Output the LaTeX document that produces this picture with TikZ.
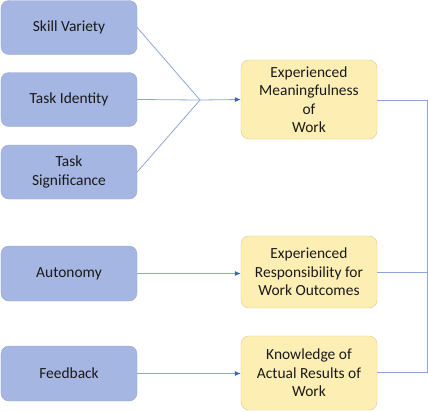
\documentclass[tikz,border=0pt]{standalone}
\usepackage{fontspec}
\setmainfont{Carlito}
\usetikzlibrary{arrows.meta}
\definecolor{inputfill}{HTML}{A6B6E2}
\definecolor{inputdraw}{HTML}{93A5D6}
\definecolor{statefill}{HTML}{FDEFB4}
\definecolor{statedraw}{HTML}{DDC88E}
\definecolor{linkline}{HTML}{8EA6DA}
\definecolor{linktip}{HTML}{3A62B8}
\begin{document}
\begin{tikzpicture}[x=1bp,y=-1bp]
  \tikzstyle{every node}=[rounded corners=8bp,align=center,inner sep=0pt,
    font=\fontsize{15.5}{18.5}\selectfont,text=black!90]
  \tikzstyle{input}=[fill=inputfill,draw=inputdraw,minimum width=136bp,minimum height=54bp]
  \tikzstyle{state}=[fill=statefill,draw=statedraw,minimum width=136bp]
  \tikzstyle{link}=[draw=linkline,line width=0.8bp]
  \tikzstyle{tolink}=[link,-{Latex[length=6bp,width=5bp,color=linktip]}]

  \useasboundingbox (0,0) rectangle (428,412);

  % job characteristics
  \node [input] (skill) at (69,27.5) {Skill Variety};
  \node [input] (ident) at (69,99.5) {Task Identity};
  \node [input] (signif) at (69,172) {Task\\Significance};
  \node [input,minimum height=55bp] (auto) at (69,273.5) {Autonomy};
  \node [input,minimum height=55bp] (feed) at (69,373.5) {Feedback};

  % psychological states
  \node [state,minimum height=79bp] (meaning) at (309,99.5)
    {Experienced\\Meaningfulness\\of\\Work};
  \node [state,minimum height=72bp] (respons) at (309,272)
    {Experienced\\Responsibility for\\Work Outcomes};
  \node [state,minimum height=74bp] (knowl) at (309,373)
    {Knowledge of\\Actual Results of\\Work};

  \coordinate (join) at (200,100);
  \coordinate (rtop) at (427,100);
  \coordinate (rbot) at (427,372);

  \draw [link] (skill.east) -- (join);
  \draw [link] (ident.east) -- (join);
  \draw [link] (signif.east) -- (join);
  \draw [tolink] (join) -- (meaning.west);
  \draw [tolink] (auto.east) -- (respons.west |- auto.east);
  \draw [tolink] (feed.east) -- (knowl.west |- feed.east);

  \draw [link] (meaning.east |- rtop) -- (rtop) -- (rbot) -- (knowl.east |- rbot);
  \draw [link] (respons.east) -- (respons.east -| rtop);
\end{tikzpicture}
\end{document}
